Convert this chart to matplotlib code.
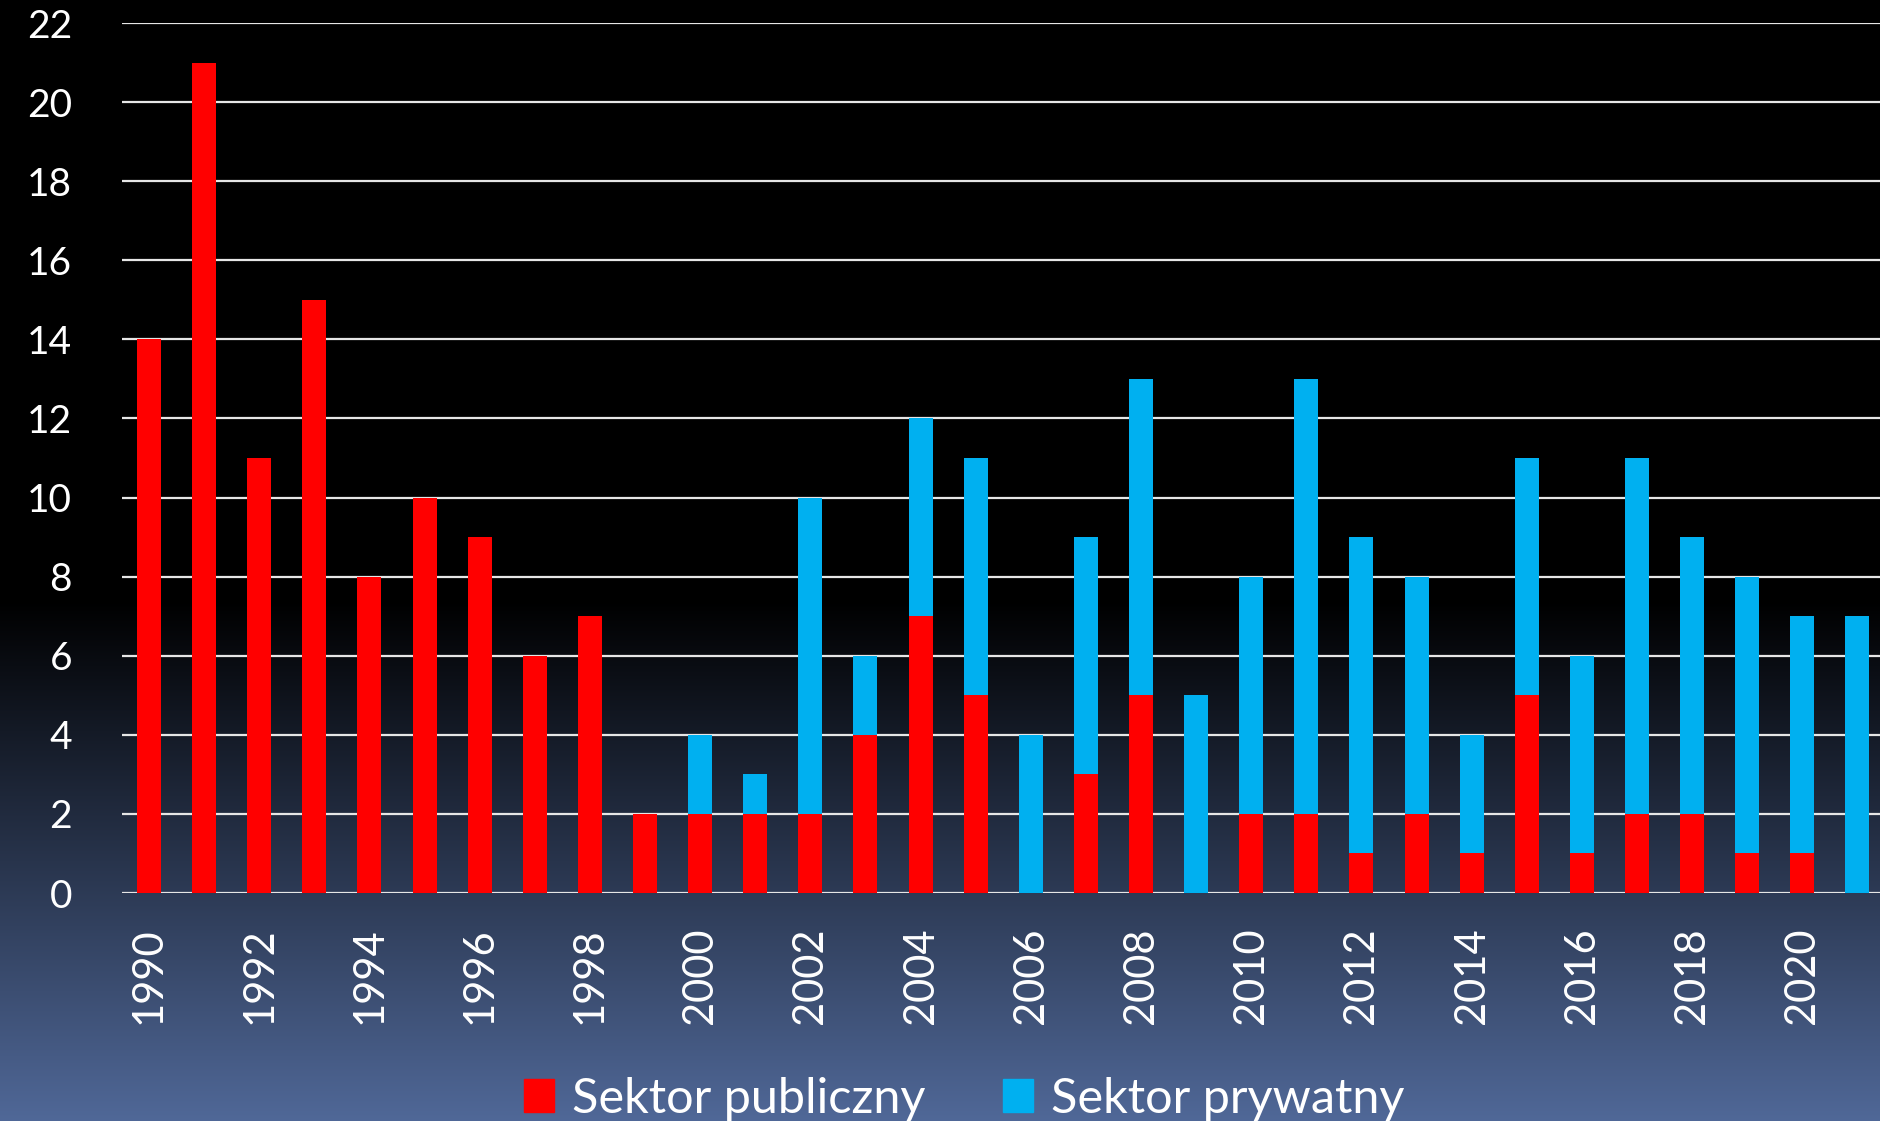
import matplotlib.pyplot as plt
import numpy as np
from matplotlib.patches import Patch

plt.rcParams['font.family'] = ['Lato', 'DejaVu Sans']

years = list(range(1990, 2022))
public = [14, 21, 11, 15, 8, 10, 9, 6, 7, 2,
          2, 2, 2, 4, 7, 5, 0, 3, 5, 0,
          2, 2, 1, 2, 1, 5, 1, 2, 2, 1,
          1, 0]
private = [0, 0, 0, 0, 0, 0, 0, 0, 0, 0,
           2, 1, 8, 2, 5, 6, 4, 6, 8, 5,
           6, 11, 8, 6, 3, 6, 5, 9, 7, 7,
           6, 7]
tick_years = list(range(1990, 2021, 2))
y_ticks = list(range(0, 23, 2))

RED = '#FF0000'
BLUE = '#00B0F0'

fig = plt.figure(figsize=(18.8, 11.21), dpi=100)

# gradient background: black on top, blue-grey at the bottom
bg = fig.add_axes([0, 0, 1, 1], zorder=-10)
h = 1121
rows = np.arange(h)
t = np.clip((rows - 600) / (h - 600), 0, 1)[:, None]
end = np.array([80, 104, 152]) / 255.0
grad = t[:, :, None] * end[None, None, :]
grad = np.repeat(grad, 2, axis=1)
bg.imshow(grad, aspect='auto', extent=[0, 1, 0, 1], origin='upper')
bg.set_axis_off()

ax = fig.add_axes([122 / 1880, 1 - 893 / 1121, 1 - 122 / 1880, (893 - 23) / 1121])
ax.set_facecolor('none')

x = np.array(years)
ax.bar(x, public, width=0.435, color=RED, zorder=3)
ax.bar(x, private, width=0.435, bottom=public, color=BLUE, zorder=3)

ax.set_ylim(0, 22)
ax.set_xlim(1989.51, 2021.41)
ax.set_yticks(y_ticks)
ax.set_xticks(tick_years)
ax.set_xticklabels([str(y) for y in tick_years], rotation=90)
ax.grid(axis='y', color='#e6e6e6', linewidth=1.6, zorder=1)
ax.grid(axis='x', visible=False)
for s in ax.spines.values():
    s.set_visible(False)
ax.tick_params(axis='both', length=0, colors='white')
ax.tick_params(axis='y', pad=36, labelsize=28)
ax.tick_params(axis='x', pad=25, labelsize=30)

handles = [Patch(color=RED, label='Sektor publiczny'),
           Patch(color=BLUE, label='Sektor prywatny')]
fig.legend(handles=handles, loc='center', bbox_to_anchor=(964 / 1880, 0.02),
           ncol=2, frameon=False, fontsize=35, labelcolor='white',
           handlelength=0.62, handleheight=0.64, handletextpad=0.36,
           columnspacing=1.6, borderpad=0)

fig.savefig('out.png', dpi=100)
